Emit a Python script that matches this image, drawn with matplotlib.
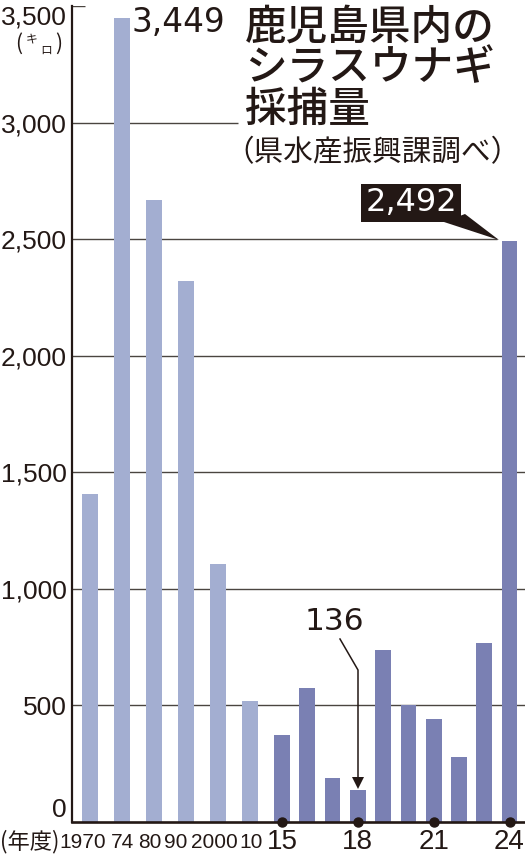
import numpy as np
import matplotlib.pyplot as plt
from matplotlib.patches import Polygon

# glass eel catch in Kagoshima prefecture (kg), by fiscal year
years = ['1970', '74', '80', '90', '2000', '10',
         '15', '16', '17', '18', '19', '20', '21', '22', '23', '24']
catch = [1406, 3449, 2668, 2322, 1107, 521,
         374, 576, 187, 136, 737, 500, 443, 280, 766, 2492]
shown_years = ['1970', '74', '80', '90', '2000', '10', '15', '18', '21', '24']
y_ticks = [0, 500, 1000, 1500, 2000, 2500, 3000, 3500]
y_labels = ['0', '500', '1,000', '1,500', '2,000', '2,500', '3,000', '3,500']

W, H = 525, 857
INK = '#231815'
LIGHT = '#a3aed1'
DARK = '#7a80b3'
GRID = '#4a4540'
NUM = ['Liberation Sans', 'DejaVu Sans']
JP = ['Noto Sans CJK JP', 'DejaVu Sans']

n_old = 6
pos = np.concatenate([np.arange(n_old) * 1.0, 6 + np.arange(len(years) - n_old) * 0.79])

fig = plt.figure(figsize=(W / 100, H / 100), dpi=100)
ax = fig.add_axes([72 / W, 35 / H, (W - 72) / W, 816 / H])
ax.set_xlim(-0.5625, 13.594)
ax.set_ylim(0, 3500)


def px(x, y):
    # figure pixel (from top-left) -> data coords
    return ax.transData.inverted().transform((x, H - y))


def ftext(x, y, s, **kw):
    fig.text(x / W, 1 - y / H, s, **kw)


# bars
ax.bar(pos[:n_old], catch[:n_old], width=0.5, color=LIGHT, zorder=2)
ax.bar(pos[n_old:], catch[n_old:], width=0.49, color=DARK, zorder=2)

# gridlines, some cut short for the title / callout
grid_right = {3500: 85, 3000: 238, 2500: 497, 2000: W, 1500: W, 1000: W, 500: W}
for yv, xr in grid_right.items():
    ax.hlines(yv, ax.get_xlim()[0], px(xr, 0)[0], color=GRID, lw=1.0, zorder=1)

for s in ['top', 'right']:
    ax.spines[s].set_visible(False)
ax.spines['left'].set_linewidth(1.6)
ax.spines['left'].set_color(INK)
ax.spines['bottom'].set_linewidth(1.9)
ax.spines['bottom'].set_color(INK)
ax.spines['bottom'].set_zorder(4)

# y axis labels
ax.set_yticks(y_ticks)
ax.set_yticklabels(y_labels, family=NUM, fontsize=19, color=INK)
ax.tick_params(axis='y', length=0, pad=4)
ylabs = ax.get_yticklabels()
ylabs[0].set_va('bottom')
ylabs[-1].set_va('top')

# x axis labels (old years set tighter and smaller)
ax.set_xticks([])
lab_shift = {'1970': -7, '74': 1, '80': -4, '90': -10, '2000': -4, '10': 1.5}
for x, yr in zip(pos, years):
    if yr not in shown_years:
        continue
    xx = x + lab_shift.get(yr, 0) / 32
    fs = 15 if yr in lab_shift else 20
    ax.text(xx, px(0, 842)[1], yr, family=NUM, fontsize=fs, color=INK,
            ha='center', va='center', clip_on=False)
ftext(0, 842, '(年度)', family=JP, fontsize=16, color=INK, ha='left', va='center')

# dots on the baseline for the labelled recent years
dot_x = [x for x, yr in zip(pos[n_old:], years[n_old:]) if yr in shown_years]
ax.plot(dot_x, np.zeros(len(dot_x)), 'o', ms=6.5, color=INK, clip_on=False, zorder=5)

# unit
ftext(19, 44, '(', family=JP, fontsize=15, color=INK, ha='center', va='center')
ftext(32, 39, 'キ', family=JP, fontsize=8.5, color=INK, ha='center', va='center')
ftext(46, 50, 'ロ', family=JP, fontsize=8.5, color=INK, ha='center', va='center')
ftext(59, 44, ')', family=JP, fontsize=15, color=INK, ha='center', va='center')

# title
for i, line in enumerate(['鹿児島県内の', 'シラスウナギ', '採捕量']):
    ftext(245, 27 + i * 41, line, family=JP, fontsize=30, weight='medium',
          color=INK, ha='left', va='center')
ftext(224, 153, '（県水産振興課調べ）', family=JP, fontsize=21.3, color=INK,
      ha='left', va='center')

# value callouts
ftext(131, 23, '3,449', family=['DejaVu Sans'], fontsize=23.5, color=INK,
      ha='left', va='center')

ftext(411, 203, '2,492', family=['DejaVu Sans'], fontsize=23, color='white',
      ha='center', va='center',
      bbox=dict(boxstyle='square,pad=0.12', fc=INK, ec='none'))
ax.add_patch(Polygon([px(444, 222), px(465, 214), px(499, 240)], closed=True,
                     fc=INK, ec='none', clip_on=False, zorder=6))

ftext(334, 622, '136', family=['DejaVu Sans'], fontsize=22.5, color=INK,
      ha='center', va='center')
arrow = np.array([px(340, 639), px(358, 670), px(358, 778)])
ax.plot(arrow[:, 0], arrow[:, 1], color=INK, lw=1.1, zorder=6)
ax.add_patch(Polygon([px(352, 777), px(364, 777), px(358, 789)], closed=True,
                     fc=INK, ec='none', zorder=6))

fig.savefig('out.png', dpi=100)
